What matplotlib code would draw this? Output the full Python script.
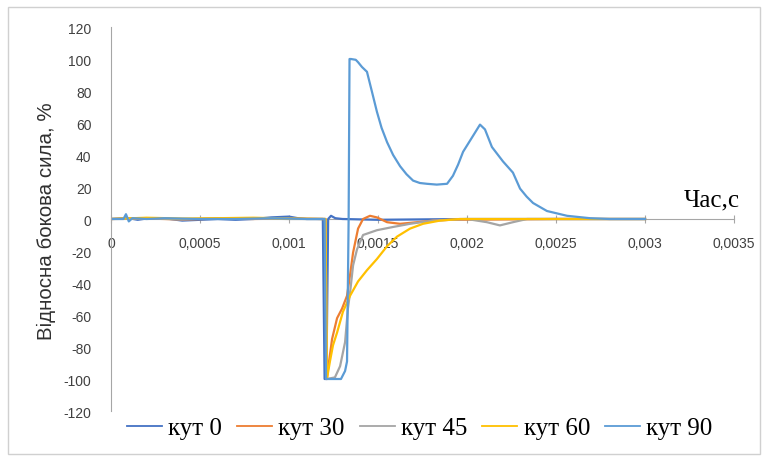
import matplotlib
matplotlib.use("Agg")
import matplotlib.pyplot as plt
from matplotlib.patches import Rectangle

# ---- data (time in s, relative lateral force in %) ----
t_k0 = [0, 0.00005, 0.0001, 0.00015, 0.0002, 0.0003, 0.0004, 0.0005, 0.0006,
        0.0007, 0.0008, 0.0009, 0.001, 0.00105, 0.0011, 0.00115, 0.00119,
        0.0012, 0.00121, 0.00122, 0.001236, 0.00126, 0.0013, 0.0015, 0.002,
        0.0025, 0.003]
y_k0 = [0, 0.3, 0.5, -0.5, 0.3, 0.5, -1, -0.5, 0, -0.5, 0, 1.0, 1.5, 0.5, 0,
        0, 0, -100, -100, 0, 2, 0.5, 0, -0.5, 0, 0, 0]

t_k30 = [0, 0.0002, 0.0004, 0.0006, 0.0008, 0.001, 0.0012, 0.001205, 0.001213,
         0.001219, 0.001242, 0.00127, 0.001298, 0.001326, 0.001343, 0.00136,
         0.001388, 0.001416, 0.001455, 0.001494, 0.001551, 0.001624, 0.001719,
         0.001809, 0.001904, 0.0025, 0.003]
y_k30 = [0, 0.3, -0.3, 0.2, 0, 0.3, 0, 0, -100, -94, -75, -62, -56, -48, -35,
         -21, -6, 0, 2, 1, -2, -3, -2, -1, -0.5, 0, 0]

t_k45 = [0, 0.0002, 0.0004, 0.0006, 0.0008, 0.001, 0.0012, 0.001205, 0.001213,
         0.001258, 0.001287, 0.001315, 0.001331, 0.001343, 0.00136, 0.001382,
         0.001416, 0.001494, 0.001584, 0.00168, 0.001809, 0.002, 0.002112,
         0.002185, 0.002258, 0.002337, 0.0025, 0.003]
y_k45 = [0, 0.5, -0.3, 0.5, 0.3, 0, 0, 0, -100, -99, -92, -77, -56, -46, -29,
         -19, -10, -7, -5, -3, -1, 0, -2, -4, -2, 0, 0, 0]

t_k60 = [0, 0.0002, 0.0004, 0.0006, 0.0008, 0.001, 0.0012, 0.001205, 0.001213,
         0.00123, 0.001247, 0.00127, 0.001303, 0.001343, 0.001388, 0.001438,
         0.001494, 0.001551, 0.001607, 0.00168, 0.001753, 0.001848, 0.001961,
         0.0025, 0.003]
y_k60 = [0, 0.8, 0.3, 0.5, 0.8, 0.3, 0, 0, -100, -89, -79, -71, -58, -48, -39,
         -32, -25, -17, -11, -6, -3, -1, 0, 0, 0]

t_k90 = [0, 0.00007, 0.000084, 0.0001, 0.00012, 0.0002, 0.0003, 0.0005, 0.0007,
         0.0009, 0.0011, 0.0012, 0.001208, 0.001292, 0.001315, 0.001326,
         0.001335, 0.00134, 0.001348, 0.001375, 0.001388, 0.00141, 0.001438,
         0.001465, 0.001494, 0.00152, 0.001551, 0.001585, 0.001624, 0.00166,
         0.001697, 0.001735, 0.001775, 0.00183, 0.001888, 0.001921, 0.00195,
         0.001978, 0.002034, 0.002073, 0.002101, 0.00214, 0.002202, 0.002258,
         0.002298, 0.002335, 0.002371, 0.002449, 0.002562, 0.002691, 0.0028,
         0.003]
y_k90 = [0, 0, 3, -1.5, 0.5, 0, 0.5, 0, 0, 0.5, 0, 0, -100, -100, -95, -89,
         0, 100, 100, 99.5, 98, 95, 92, 80, 67, 57, 48, 40, 33, 28, 24, 22.5,
         22, 21.5, 22, 27, 34, 42, 52, 59, 56, 45, 36, 29, 19, 14, 10, 5, 2,
         0.5, 0, 0]

series_labels = ["кут 0", "кут 30", "кут 45", "кут 60", "кут 90"]
series_colors = ["#4472C4", "#ED7D31", "#A5A5A5", "#FFC000", "#5B9BD5"]

x_ticks = [0, 0.0005, 0.001, 0.0015, 0.002, 0.0025, 0.003, 0.0035]
x_ticklabels = ["0", "0,0005", "0,001", "0,0015", "0,002", "0,0025", "0,003", "0,0035"]
y_ticks = list(range(-120, 121, 20))

# ---- figure ----
W, H = 768, 460
fig = plt.figure(figsize=(W / 100, H / 100), dpi=100)
fig.patch.set_facecolor("white")
fig.patches.append(Rectangle((8 / W, 1 - 455 / H), (760 - 8) / W, (455 - 8) / H,
                             transform=fig.transFigure, fill=False,
                             edgecolor="#D0D0D0", linewidth=1.0))

ax = fig.add_axes([111 / W, 1 - 412 / H, (734 - 111) / W, (412 - 28) / H])

data = [(t_k0, y_k0), (t_k30, y_k30), (t_k45, y_k45), (t_k60, y_k60), (t_k90, y_k90)]
for (t, y), lab, col in zip(data, series_labels, series_colors):
    ax.plot(t, y, color=col, lw=1.6, label=lab, solid_joinstyle="round")

ax.set_xlim(0, 0.0035)
ax.set_ylim(-120, 120)

for s in ["top", "right"]:
    ax.spines[s].set_visible(False)
ax.spines["bottom"].set_position(("data", 0))
ax.spines["bottom"].set_color("#A6A6A6")
ax.spines["left"].set_color("#A6A6A6")
ax.spines["bottom"].set_zorder(0.5)

ax.set_xticks(x_ticks)
ax.set_xticklabels(x_ticklabels)
ax.set_yticks(y_ticks)
ax.set_yticklabels([str(v) for v in y_ticks])

tick_font = "Liberation Sans"
ax.tick_params(axis="x", direction="inout", length=6, width=0.8, color="#A6A6A6",
               pad=9, labelsize=10, labelcolor="#404040")
ax.tick_params(axis="y", length=0, pad=14, labelsize=10, labelcolor="#404040")
for lbl in ax.get_xticklabels() + ax.get_yticklabels():
    lbl.set_fontfamily(tick_font)

fig.text(46 / W, 1 - 221 / H, "Відносна бокова сила, %", rotation=90,
         ha="center", va="center", fontsize=14.8, family="Liberation Sans",
         color="#303030")
fig.text(712 / W, 1 - 200 / H, "Час,с", ha="center", va="center",
         fontsize=18, family="Liberation Serif", color="#000000")

leg = fig.legend(loc="center left", bbox_to_anchor=(127 / W, 1 - 429 / H),
                 ncol=5, frameon=False, handlelength=1.4, handletextpad=0.25,
                 columnspacing=0.6, borderaxespad=0, borderpad=0,
                 prop={"family": "Liberation Serif", "size": 18})
for line in leg.get_lines():
    line.set_linewidth(1.3)

fig.savefig("out.png", dpi=100)
